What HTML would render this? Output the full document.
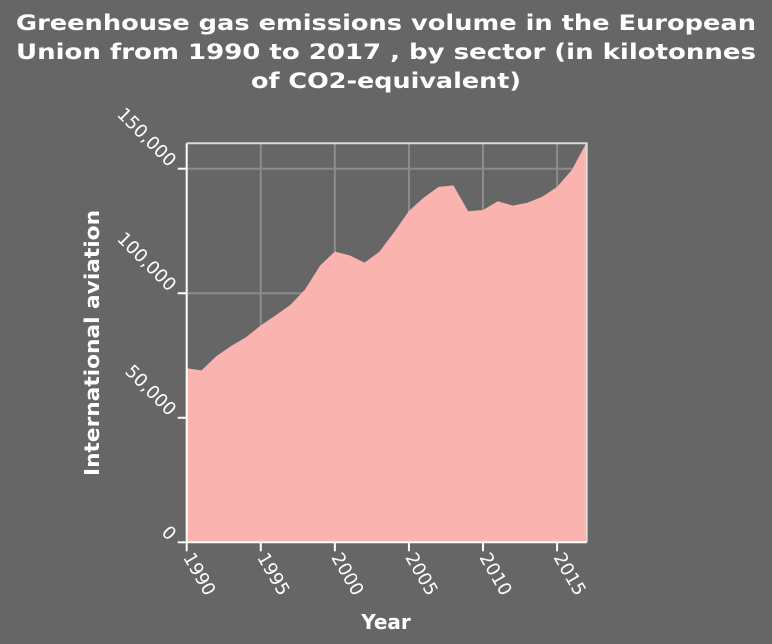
<!DOCTYPE html>
<html><head><meta charset="utf-8"><style>
html,body{margin:0;padding:0;background:#666666;}
svg{display:block;font-family:"DejaVu Sans","Liberation Sans",sans-serif;}
</style></head><body>
<svg id="chart" width="772" height="644" viewBox="0 0 772 644" xmlns="http://www.w3.org/2000/svg">
<rect width="772" height="644" fill="#666666"/>
<g fill="#ffffff" font-weight="bold" font-size="21" text-anchor="middle">
<text x="386" y="30" textLength="740" lengthAdjust="spacingAndGlyphs">Greenhouse gas emissions volume in the European</text>
<text x="386" y="59" textLength="740" lengthAdjust="spacingAndGlyphs">Union from 1990 to 2017 , by sector (in kilotonnes</text>
<text x="386" y="88" textLength="270" lengthAdjust="spacingAndGlyphs">of CO2-equivalent)</text>
</g>
<g id="grid"></g>
<path id="area" fill="#fab3ae"/>
<g id="axes"></g>
<text x="386" y="629" fill="#fff" font-weight="bold" font-size="20" text-anchor="middle">Year</text>
<text transform="translate(99,343) rotate(-90)" fill="#fff" font-weight="bold" font-size="20" text-anchor="middle" textLength="266" lengthAdjust="spacingAndGlyphs">International aviation</text>
</svg>
<script>
const years=[1990,1991,1992,1993,1994,1995,1996,1997,1998,1999,2000,2001,2002,2003,2004,2005,2006,2007,2008,2009,2010,2011,2012,2013,2014,2015,2016,2017];
const values=[69900,69000,74700,78800,82300,87100,91100,95300,101600,111100,116700,115200,112300,116600,124500,133000,138400,142700,143300,132900,133400,136900,135200,136300,138700,142700,149500,160600];
const xTicks=[1990,1995,2000,2005,2010,2015];
const yTicks=[0,50000,100000,150000];
const yTickLabels=["0","50,000","100,000","150,000"];
const L=186.7,R=586.7,T=143.3,B=542.3,Y0=1990,Y1=2017,VMAX=160200;
const ns="http://www.w3.org/2000/svg";
const x=v=>L+(v-Y0)/(Y1-Y0)*(R-L);
const y=v=>B-v/VMAX*(B-T);
function mk(tag,attrs,parent){const e=document.createElementNS(ns,tag);for(const k in attrs)e.setAttribute(k,attrs[k]);parent.appendChild(e);return e;}
const grid=document.getElementById('grid'),axes=document.getElementById('axes');
xTicks.forEach(t=>{if(t===Y0)return;const l=mk('line',{x1:x(t),x2:x(t),y1:T,y2:B,stroke:'#8c8c8c','stroke-width':2},grid);

});
yTicks.forEach(t=>{if(t===0)return;const l=mk('line',{x1:L,x2:R,y1:y(t),y2:y(t),stroke:'#8c8c8c','stroke-width':2},grid);

});
let d='M'+x(years[0])+','+B;
years.forEach((yr,i)=>{d+=' L'+x(yr).toFixed(1)+','+y(values[i]).toFixed(1);});
d+=' L'+x(years[years.length-1])+','+B+' Z';
document.getElementById('area').setAttribute('d',d);
const fr=mk('path',{d:`M${L},${T} H${R} V${B}`,fill:'none',stroke:'#d9d9d9','stroke-width':2},axes);


const ax=mk('path',{d:`M${L},${T} V${B} H${R}`,fill:'none',stroke:'#ffffff','stroke-width':2},axes);


xTicks.forEach(t=>{const tk=mk('line',{x1:x(t),x2:x(t),y1:B,y2:B+9,stroke:'#fff','stroke-width':2},axes);


const tx=mk('text',{transform:`translate(${x(t)-4},${B+15}) rotate(60)`,fill:'#fff','font-size':18},axes);
tx.textContent=t;

});
yTicks.forEach((t,i)=>{const tk=mk('line',{x1:L-9,x2:L,y1:y(t),y2:y(t),stroke:'#fff','stroke-width':2},axes);


const tx=mk('text',{transform:`translate(${L-18},${y(t)-1}) rotate(45)`,fill:'#fff','font-size':18,'text-anchor':'end'},axes);
tx.textContent=yTickLabels[i];

});
</script>
</body></html>
